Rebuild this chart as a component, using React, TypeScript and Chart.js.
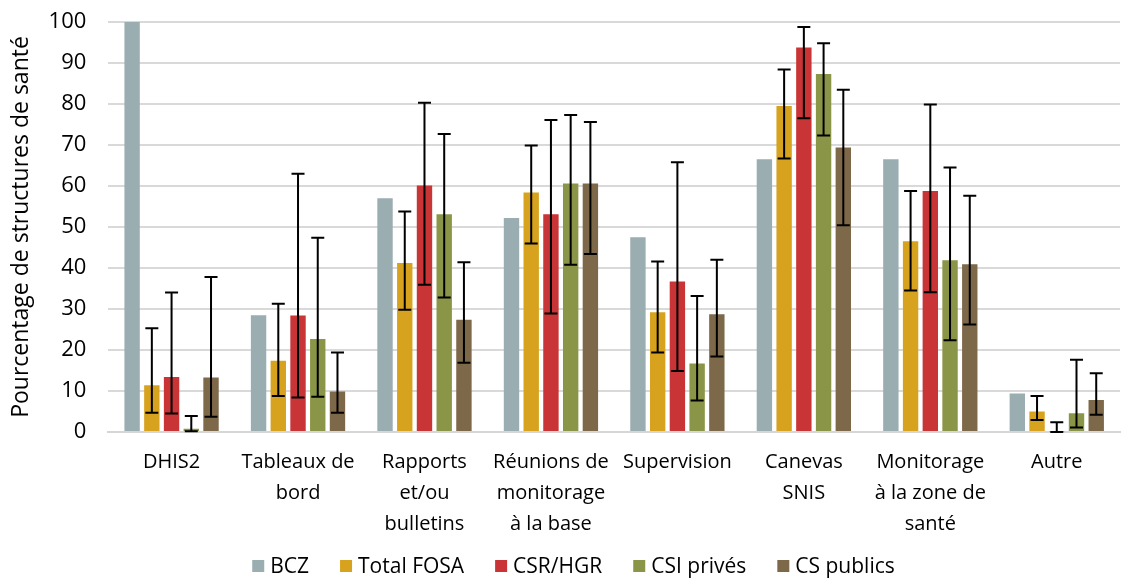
import React, { useEffect, useRef } from "react";
import { Chart, registerables } from "chart.js";

Chart.register(...registerables);

const categories: string[][] = [
  ["DHIS2"],
  ["Tableaux de", "bord"],
  ["Rapports", "et/ou", "bulletins"],
  ["Réunions de", "monitorage", "à la base"],
  ["Supervision"],
  ["Canevas", "SNIS"],
  ["Monitorage", "à la zone de", "santé"],
  ["Autre"],
];

const seriesNames = ["BCZ", "Total FOSA", "CSR/HGR", "CSI privés", "CS publics"];
const seriesColors = ["#9AADB1", "#D7A31F", "#C93437", "#8B9547", "#7E684A"];

const bczValues = [100, 28.5, 57.0, 52.2, 47.5, 66.5, 66.5, 9.4];
const fosaValues = [11.4, 17.4, 41.2, 58.4, 29.2, 79.5, 46.5, 5.0];
const csrValues = [13.4, 28.4, 60.1, 53.1, 36.7, 93.8, 58.8, 0.2];
const csiValues = [0.8, 22.7, 53.1, 60.6, 16.7, 87.3, 41.9, 4.6];
const cspValues = [13.3, 9.9, 27.4, 60.6, 28.7, 69.4, 40.9, 7.8];

const fosaLow = [4.7, 8.8, 29.8, 46.0, 19.4, 66.7, 34.5, 2.9];
const fosaHigh = [25.3, 31.3, 53.8, 69.9, 41.6, 88.4, 58.8, 8.8];
const csrLow = [4.5, 8.4, 35.9, 28.9, 14.9, 76.5, 34.1, 0];
const csrHigh = [34.0, 63.0, 80.3, 76.1, 65.8, 98.8, 79.9, 2.4];
const csiLow = [0.2, 8.6, 32.8, 40.8, 7.7, 72.3, 22.4, 1.1];
const csiHigh = [3.9, 47.4, 72.7, 77.3, 33.2, 94.8, 64.5, 17.6];
const cspLow = [3.7, 4.7, 16.9, 43.4, 18.4, 50.4, 26.2, 4.2];
const cspHigh = [37.8, 19.4, 41.4, 75.6, 42.0, 83.5, 57.6, 14.3];

const yTitle = "Pourcentage de structures de santé";

const FONT = "'Open Sans', 'Liberation Sans', Arial, sans-serif";

const errorBarsPlugin = {
  id: "errorBars",
  afterDatasetsDraw(chart: any) {
    const ctx = chart.ctx;
    const yScale = chart.scales.y;
    chart.data.datasets.forEach((ds: any, i: number) => {
      if (!ds.errLow || !ds.errHigh) return;
      const meta = chart.getDatasetMeta(i);
      meta.data.forEach((bar: any, j: number) => {
        const lo = ds.errLow[j];
        const hi = ds.errHigh[j];
        if (lo == null || hi == null) return;
        const x = bar.x;
        const yLo = yScale.getPixelForValue(lo);
        const yHi = yScale.getPixelForValue(hi);
        const cap = 6.5;
        ctx.save();
        ctx.strokeStyle = "#000000";
        ctx.lineWidth = 2;
        ctx.beginPath();
        ctx.moveTo(x, yLo);
        ctx.lineTo(x, yHi);
        ctx.moveTo(x - cap, yHi);
        ctx.lineTo(x + cap, yHi);
        ctx.moveTo(x - cap, yLo);
        ctx.lineTo(x + cap, yLo);
        ctx.stroke();
        ctx.restore();
      });
    });
  },
};

const bottomLegendPlugin = {
  id: "bottomLegend",
  afterDraw(chart: any) {
    const ctx = chart.ctx;
    const box = 12;
    const gapBoxText = 6;
    const gapItems = 31;
    ctx.save();
    ctx.font = `21px ${FONT}`;
    ctx.textBaseline = "middle";
    ctx.textAlign = "left";
    const items = chart.data.datasets.map((ds: any) => ({
      label: ds.label,
      color: ds.backgroundColor,
      w: ctx.measureText(ds.label).width,
    }));
    const total =
      items.reduce((s: number, it: any) => s + box + gapBoxText + it.w, 0) +
      gapItems * (items.length - 1);
    const cy = chart.height - 14;
    let x = chart.width / 2 + 12 - total / 2;
    items.forEach((it: any) => {
      ctx.fillStyle = it.color;
      ctx.fillRect(x, cy - box / 2, box, box);
      x += box + gapBoxText;
      ctx.fillStyle = "#000";
      ctx.fillText(it.label, x, cy + 1);
      x += it.w + gapItems;
    });
    ctx.restore();
  },
};

export default function App() {
  const ref = useRef<HTMLCanvasElement | null>(null);

  useEffect(() => {
    document.body.style.margin = "0";
    const values = [bczValues, fosaValues, csrValues, csiValues, cspValues];
    const lows = [null, fosaLow, csrLow, csiLow, cspLow];
    const highs = [null, fosaHigh, csrHigh, csiHigh, cspHigh];
    const chart = new Chart(ref.current as HTMLCanvasElement, {
      type: "bar",
      data: {
        labels: categories,
        datasets: seriesNames.map((name, i) => ({
          label: name,
          data: values[i],
          backgroundColor: seriesColors[i],
          borderWidth: 0,
          errLow: lows[i],
          errHigh: highs[i],
          categoryPercentage: 0.78,
          barPercentage: 0.78,
        })) as any,
      },
      options: {
        animation: false,
        responsive: false,
        maintainAspectRatio: false,
        layout: { padding: { top: 0, right: 3, left: 8, bottom: 25 } },
        plugins: {
          legend: { display: false },
          tooltip: { enabled: false },
        },
        scales: {
          x: {
            grid: { display: false, drawTicks: false },
            border: { color: "#D6D6D6", width: 2 },
            ticks: {
              color: "#000",
              autoSkip: false,
              maxRotation: 0,
              minRotation: 0,
              padding: 15,
              font: { family: FONT, size: 20, lineHeight: 1.55 },
            },
          },
          y: {
            min: 0,
            max: 100,
            afterFit(scale: any) {
              scale.width -= 9;
            },
            ticks: {
              stepSize: 10,
              color: "#000",
              padding: 22,
              font: { family: FONT, size: 22, lineHeight: 0 },
            },
            grid: { color: "#D9D9D9", lineWidth: 2, drawTicks: false },
            border: { display: false },
            title: {
              display: true,
              text: yTitle,
              color: "#000",
              font: { family: FONT, size: 23 },
              padding: { top: 0, bottom: 0 },
            },
          },
        },
      },
      plugins: [errorBarsPlugin, bottomLegendPlugin],
    } as any);
    return () => chart.destroy();
  }, []);

  return <canvas ref={ref} width={1123} height={580} style={{ display: "block" }} />;
}
